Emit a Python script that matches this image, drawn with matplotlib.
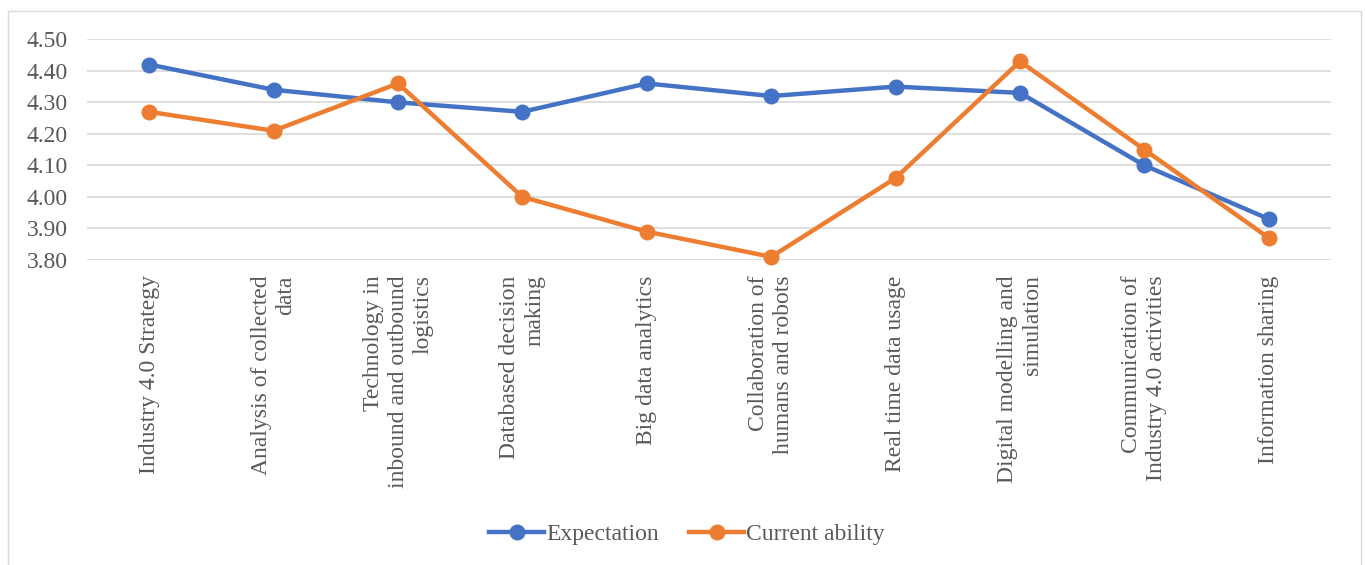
import matplotlib
matplotlib.use("Agg")
import matplotlib.pyplot as plt
from matplotlib.patches import Rectangle

plt.rcParams['font.family'] = ['Liberation Serif', 'DejaVu Serif']

categories = [
    "Industry 4.0 Strategy",
    "Analysis of collected\ndata",
    "Technology in\ninbound and outbound\nlogistics",
    "Databased decision\nmaking",
    "Big data analytics",
    "Collaboration of\nhumans and robots",
    "Real time data usage",
    "Digital modelling and\nsimulation",
    "Communication of\nIndustry 4.0 activities",
    "Information sharing",
]
expectation = [4.42, 4.34, 4.30, 4.27, 4.36, 4.32, 4.35, 4.33, 4.10, 3.93]
current_ability = [4.27, 4.21, 4.36, 4.00, 3.89, 3.81, 4.06, 4.43, 4.15, 3.87]
yticks = [3.80, 3.90, 4.00, 4.10, 4.20, 4.30, 4.40, 4.50]

blue = "#4472C4"
orange = "#ED7D31"
txt = "#595959"

fig = plt.figure(figsize=(13.65, 5.65), dpi=100)
ax = fig.add_axes([87 / 1365, 1 - 260 / 565, (1331 - 87) / 1365, (260 - 39.3) / 565])

x = list(range(len(categories)))
ax.plot(x, expectation, color=blue, lw=3.2, marker="o", ms=10.5, label="Expectation", zorder=3, clip_on=False)
ax.plot(x, current_ability, color=orange, lw=3.2, marker="o", ms=10.5, label="Current ability", zorder=3, clip_on=False)

ax.set_xlim(-0.5, len(categories) - 0.5)
ax.set_ylim(3.80, 4.50)
ax.set_yticks(yticks)
ax.set_yticklabels([f"{v:.2f}" for v in yticks], fontsize=17, color=txt)
ax.yaxis.grid(True, color="#D9D9D9", lw=1.2)
ax.set_axisbelow(True)
ax.set_xticks(x)
ax.set_xticklabels(categories, rotation=90, fontsize=17, color=txt, multialignment="right", linespacing=1.25)
ax.tick_params(axis="y", length=0, pad=14)
ax.tick_params(axis="x", length=0, pad=11)
for s in ax.spines.values():
    s.set_visible(False)
ax.axhline(3.80, color="#D9D9D9", lw=1.2, zorder=1)

leg = fig.legend(loc="center", bbox_to_anchor=(687 / 1365, 1 - 534 / 565), ncol=2, frameon=False,
                 fontsize=17, handlelength=2.3, columnspacing=1.3, handletextpad=0.1)
for t in leg.get_texts():
    t.set_color(txt)

fig.patches.append(Rectangle((8 / 1365, -0.01), (1361 - 8) / 1365, 1 - 11 / 565 + 0.01,
                             transform=fig.transFigure, fill=False, ec="#D9D9D9", lw=1))

fig.savefig("out.png", dpi=100, facecolor="white")
